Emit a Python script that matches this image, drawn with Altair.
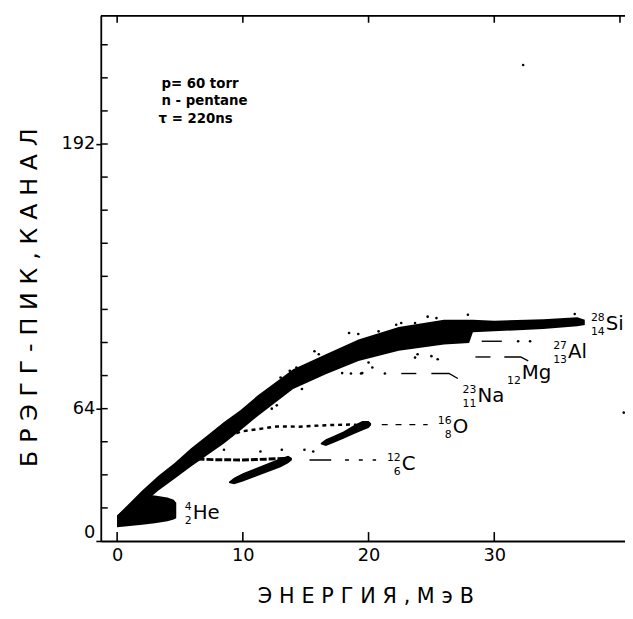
import altair as alt
import pandas as pd

FONT = "DejaVu Sans"

# ---- scale extents ----
X_MIN, X_MAX = -1.3, 40.4
Y_MIN, Y_MAX = 0, 254
W, H = 531, 532

x_label_ticks = [0, 10, 20, 30]
x_top_ticks = [0, 10, 20, 30, 40]
y_labels = [0, 64, 192]
y_minor = [16, 32, 48, 64, 80, 96, 112, 128, 144, 160, 176, 192, 208, 224, 240]

# ---- main Bragg-peak band (lower / upper edge) ----
band_x = [0.0, 0.9, 1.95, 3.26, 4.57, 5.88, 7.19, 8.5, 9.8, 11.2, 14.0, 16.6, 19.2,
          22.4, 26.0, 28.0, 28.3, 30.0, 33.9, 36.6, 37.2]
band_lo = [6.7, 12.0, 17.5, 24.3, 30.1, 36.0, 41.6, 47.2, 53.5, 60.5, 73.5, 80.7, 87.1,
           92.0, 95.0, 95.8, 101.0, 101.4, 102.5, 103.8, 104.5]
band_hi = [12.3, 17.8, 24.2, 31.4, 37.7, 44.9, 51.2, 57.6, 63.2, 70.5, 83.1, 90.3, 97.4,
           103.5, 107.0, 107.0, 107.0, 106.5, 107.3, 108.2, 107.0]

# ---- He blob ----
he_x = [0.0, 1.0, 2.0, 3.0, 4.0, 4.5, 4.7]
he_lo = [6.7, 7.2, 7.8, 8.6, 9.6, 10.4, 11.0]
he_hi = [12.3, 17.8, 22.5, 22.0, 21.0, 20.0, 18.5]

# ---- C and O hooks ----
c_x = [8.9, 9.3, 10.0, 11.0, 12.0, 13.0, 13.6, 13.9]
c_lo = [28.0, 27.4, 28.8, 31.1, 33.4, 35.7, 37.6, 39.0]
c_hi = [28.6, 30.6, 32.8, 35.2, 37.6, 40.0, 41.2, 40.2]

o_x = [16.2, 16.6, 17.2, 18.0, 18.8, 19.5, 20.0, 20.2]
o_lo = [46.8, 45.9, 47.4, 49.5, 51.6, 53.4, 54.6, 56.0]
o_hi = [47.4, 49.2, 50.8, 53.0, 55.8, 58.0, 58.0, 57.0]

# ---- sparse trails ----
ctrail_x = [6.4, 8.0, 10.0, 12.0, 13.7]
ctrail_y = [39.6, 39.3, 39.2, 39.6, 40.0]
otrail_x = [8.9, 9.8, 10.6, 12.7, 14.5, 16.6, 18.5, 19.5]
otrail_y = [50.5, 52.9, 53.6, 55.4, 55.3, 56.0, 56.3, 56.0]

# ---- scattered events ----
dots_x = [18.45, 19.18, 20.8, 15.7, 16.04, 14.26, 13.73, 13.0, 20.0, 20.3, 17.9, 19.5,
          14.7, 12.3, 12.7, 22.2, 22.6, 14.9, 15.6, 11.4, 13.1, 23.7, 24.7, 25.4, 27.9,
          36.4, 23.9, 25.5, 25.0, 23.7, 31.9, 32.85, 18.6, 19.4, 21.3, 8.5, 32.3, 40.3]
dots_y = [100.6, 100.1, 101.4, 91.8, 90.3, 83.9, 82.3, 79.1, 86.3, 83.9, 81.2, 81.2,
          73.5, 64.0, 65.6, 104.6, 105.4, 44.1, 43.3, 43.3, 44.1, 105.4, 108.5, 107.8, 109.4,
          109.8, 90.3, 87.9, 89.4, 88.7, 96.6, 96.6, 81.0, 81.0, 81.0, 44.1, 230.2, 62.1]

# ---- leader lines to the isotope labels ----
lead_seg = ["na1", "na1", "na2", "na2", "na2", "mg1", "mg1", "mg2", "mg2", "mg2", "al1", "al1"]
lead_x = [22.6, 23.8, 25.0, 26.4, 27.1, 28.5, 29.7, 30.8, 32.1, 32.7, 29.0, 30.6]
lead_y = [81.0, 81.0, 81.0, 81.0, 78.6, 89.0, 89.0, 89.0, 89.0, 87.1, 96.6, 96.6]
clead_x = [15.3, 20.6]
clead_y = [39.2, 39.2]
olead_x = [21.05, 24.7]
olead_y = [56.3, 56.3]

# ---- isotope labels ----
lab_text = ["Si", "Al", "Mg", "Na", "O", "C", "He"]
lab_x = [38.87, 35.86, 32.19, 28.66, 26.69, 22.64, 6.01]
lab_y = [102.2, 88.7, 78.3, 67.2, 52.1, 34.5, 10.5]
lab_sup = ["28", "27", "", "23", "16", "12", "4"]
lab_sub = ["14", "13", "12", "11", "8", "6", "2"]

# ---- conditions note ----
note_text = ["p= 60 torr", "n - pentane", "τ = 220ns"]
note_x = [3.52, 3.52, 3.3]
note_y = [219.2, 210.7, 202.1]

X_TITLE = "ЭНЕРГИЯ, МэВ"
Y_TITLE = "БРЭГГ-ПИК,КАНАЛ"


def spaced(s):
    return " ".join("\u2004".join(w) for w in s.split(" "))


xscale = alt.Scale(domain=[X_MIN, X_MAX], nice=False, zero=False)
yscale = alt.Scale(domain=[Y_MIN, Y_MAX], nice=False, zero=False)

xaxis = alt.Axis(values=x_label_ticks, ticks=False, tickSize=0, grid=False,
                 domainColor="black", domainWidth=1.8, labelFontSize=18,
                 labelFont=FONT, labelColor="black", labelPadding=6,
                 title=spaced(X_TITLE), titleFont=FONT, titleFontSize=21,
                 titleFontWeight="normal", titleColor="black",
                 titleX=268, titleY=56, titleAlign="center", titleBaseline="middle")
yaxis = alt.Axis(values=y_labels, tickSize=5, tickWidth=1.6, tickColor="black",
                 grid=False, domainColor="black", domainWidth=1.8, labelFontSize=18,
                 labelFont=FONT, labelColor="black", labelPadding=1, labelFlush=True,
                 title=spaced(Y_TITLE), titleFont=FONT, titleFontSize=24,
                 titleFontWeight="normal", titleColor="black", titleAngle=270,
                 titleX=-72, titleY=285, titleAlign="center", titleBaseline="middle")


def X(f):
    return alt.X(f, type="quantitative", scale=xscale, axis=xaxis)


def Y(f):
    return alt.Y(f, type="quantitative", scale=yscale, axis=yaxis)


def area_df(xs, lo, hi):
    return pd.DataFrame({"x": xs, "lo": lo, "hi": hi})


band = alt.Chart(area_df(band_x, band_lo, band_hi)).mark_area(color="black", opacity=1).encode(
    x=X("x"), y=Y("lo"), y2="hi")
he = alt.Chart(area_df(he_x, he_lo, he_hi)).mark_area(color="black", opacity=1).encode(
    x=X("x"), y=Y("lo"), y2="hi")
chook = alt.Chart(area_df(c_x, c_lo, c_hi)).mark_area(color="black", opacity=1).encode(
    x=X("x"), y=Y("lo"), y2="hi")
ohook = alt.Chart(area_df(o_x, o_lo, o_hi)).mark_area(color="black", opacity=1).encode(
    x=X("x"), y=Y("lo"), y2="hi")

ctrail = alt.Chart(pd.DataFrame({"x": ctrail_x, "y": ctrail_y})).mark_line(
    color="black", strokeWidth=3, strokeDash=[7, 2]).encode(x=X("x"), y=Y("y"))
otrail = alt.Chart(pd.DataFrame({"x": otrail_x, "y": otrail_y})).mark_line(
    color="black", strokeWidth=2.5, strokeDash=[4, 4]).encode(x=X("x"), y=Y("y"))

dots = alt.Chart(pd.DataFrame({"x": dots_x, "y": dots_y})).mark_circle(
    color="black", opacity=1, size=7).encode(x=X("x"), y=Y("y"))

leaders = alt.Chart(pd.DataFrame({"seg": lead_seg, "x": lead_x, "y": lead_y})).mark_line(
    color="black", strokeWidth=1.4).encode(x=X("x"), y=Y("y"), detail="seg:N")
clead = alt.Chart(pd.DataFrame({"x": clead_x, "y": clead_y})).mark_line(
    color="black", strokeWidth=1.4, strokeDash=[22, 14, 4, 10, 4, 10, 4, 20]).encode(
    x=X("x"), y=Y("y"))
olead = alt.Chart(pd.DataFrame({"x": olead_x, "y": olead_y})).mark_line(
    color="black", strokeWidth=1.4, strokeDash=[6, 8]).encode(x=X("x"), y=Y("y"))

labdf = pd.DataFrame({"t": lab_text, "x": lab_x, "y": lab_y, "sup": lab_sup, "sub": lab_sub})
lab_main = alt.Chart(labdf).mark_text(align="left", baseline="alphabetic", fontSize=20,
                                      font=FONT, color="black").encode(
    x=X("x"), y=Y("y"), text="t:N")
lab_sup_l = alt.Chart(labdf).mark_text(align="right", baseline="alphabetic", fontSize=11,
                                       font=FONT, color="black", dx=-1, dy=-9).encode(
    x=X("x"), y=Y("y"), text="sup:N")
lab_sub_l = alt.Chart(labdf).mark_text(align="right", baseline="alphabetic", fontSize=11,
                                       font=FONT, color="black", dx=-1, dy=5).encode(
    x=X("x"), y=Y("y"), text="sub:N")

note = alt.Chart(pd.DataFrame({"t": note_text, "x": note_x, "y": note_y})).mark_text(
    align="left", baseline="alphabetic", fontSize=13.5, fontWeight="bold", font=FONT,
    color="black").encode(x=X("x"), y=Y("y"), text="t:N")

# inward ticks and frame
yticks = alt.Chart(pd.DataFrame({"v": y_minor})).mark_rule(color="black", strokeWidth=1.5).encode(
    y=Y("v"), x=alt.value(0), x2=alt.value(7))
xticks_b = alt.Chart(pd.DataFrame({"v": x_label_ticks})).mark_rule(color="black", strokeWidth=1.6).encode(
    x=X("v"), y=alt.value(H), y2=alt.value(H - 9))
xticks_t = alt.Chart(pd.DataFrame({"v": x_top_ticks})).mark_rule(color="black", strokeWidth=1.6).encode(
    x=X("v"), y=alt.value(0), y2=alt.value(7))
topframe = alt.Chart(pd.DataFrame({"v": [Y_MAX]})).mark_rule(color="black", strokeWidth=1.8).encode(
    y=Y("v"), x=alt.value(0), x2=alt.value(W))

chart = alt.layer(
    band, he, chook, ohook, ctrail, otrail, dots, leaders, clead, olead,
    lab_main, lab_sup_l, lab_sub_l, note, yticks, xticks_b, xticks_t, topframe
).properties(
    width=W, height=H,
    autosize=alt.AutoSizeParams(type="none"),
    padding={"left": 94, "top": 4, "right": 0, "bottom": 67},
).configure_view(stroke=None).configure(background="white")

chart.save("out.html", embed_options={"renderer": "svg", "actions": False})
